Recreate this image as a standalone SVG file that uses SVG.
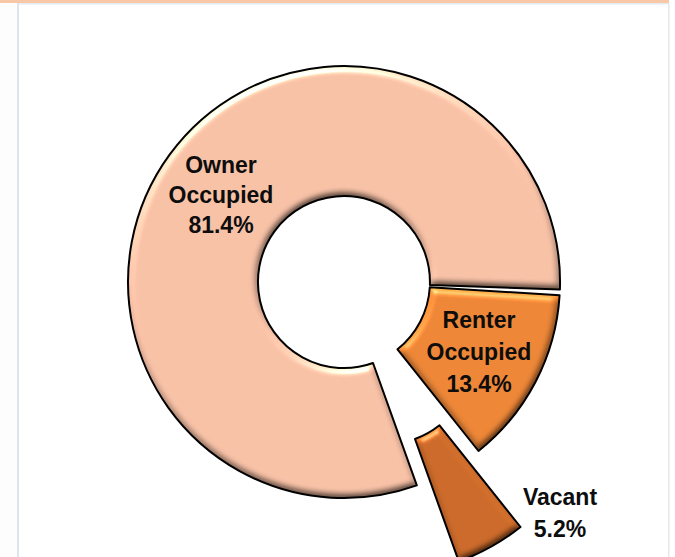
<svg xmlns="http://www.w3.org/2000/svg" xmlns:xlink="http://www.w3.org/1999/xlink" width="675" height="557" viewBox="0 0 675 557">
  <style>
    .lbl { font-family: "Liberation Sans", Arial, sans-serif; font-weight: bold; font-size: 23px; fill: #0d0d0d; text-anchor: middle; }
    .outline { fill: none; stroke: #000; stroke-width: 2; stroke-linejoin: round; }
  </style>
  <defs>
    <filter id="bevel" x="-10%" y="-10%" width="120%" height="120%" color-interpolation-filters="sRGB">
      <feGaussianBlur in="SourceAlpha" stdDeviation="3.5" result="blur"/>
      <feDiffuseLighting in="blur" surfaceScale="3.5" diffuseConstant="1" lighting-color="#ffffff" result="diff">
        <feDistantLight azimuth="250" elevation="45"/>
      </feDiffuseLighting>
      <feComposite in="SourceGraphic" in2="diff" operator="arithmetic" k1="0.99" k2="0.3" k3="0" k4="0" result="lit"/>
      <feSpecularLighting in="blur" surfaceScale="3.5" specularConstant="0.5" specularExponent="45" lighting-color="#ffffff" result="spec">
        <feDistantLight azimuth="250" elevation="45"/>
      </feSpecularLighting>
      <feComposite in="spec" in2="SourceAlpha" operator="in" result="specIn"/>
      <feComposite in="lit" in2="specIn" operator="arithmetic" k1="0" k2="1" k3="0.6" k4="-0.01" result="all"/>
      <feComposite in="all" in2="SourceAlpha" operator="in"/>
    </filter>
    <path id="p-owner" d="M416.8,485.4 A216,216 0 1 1 559.9,289.5 L429.9,285.0 A86,86 0 1 0 373.0,363.0 Z"/>
    <path id="p-renter" d="M429.8,287.3 L559.6,295.2 A216,216 0 0 1 478.5,451.0 L397.5,349.3 A86,86 0 0 0 429.8,287.3 Z"/>
    <path id="p-vacant" d="M397.5,349.3 L478.5,451.0 A216,216 0 0 1 416.8,485.4 L373.0,363.0 A86,86 0 0 0 397.5,349.3 Z"/>
  </defs>

  <!-- background / frame -->
  <rect x="0" y="0" width="675" height="557" fill="#ffffff"/>
  <rect x="0" y="0" width="17" height="557" fill="#fdfdfd"/>
  <rect x="0" y="0" width="669" height="3" fill="#f8c7a6"/>
  <rect x="17" y="3" width="2" height="554" fill="#dfe5ec"/>
  <rect x="19" y="3" width="650" height="1.5" fill="#e4ecf3"/>
  <rect x="668" y="3" width="1.5" height="554" fill="#e8e8e8"/>

  <g id="owner">
    <use xlink:href="#p-owner" fill="#f8c2a7" filter="url(#bevel)"/>
    <use xlink:href="#p-owner" class="outline"/>
  </g>
  <g id="renter">
    <use xlink:href="#p-renter" fill="#ee8738" filter="url(#bevel)"/>
    <use xlink:href="#p-renter" class="outline"/>
  </g>
  <g id="vacant" transform="translate(42,76)">
    <use xlink:href="#p-vacant" fill="#cc6b2b" filter="url(#bevel)"/>
    <use xlink:href="#p-vacant" class="outline"/>
  </g>

  <g id="connectors"></g>

  <g id="label-owner">
    <text class="lbl" x="221" y="173">Owner</text>
    <text class="lbl" x="221" y="203">Occupied</text>
    <text class="lbl" x="221" y="233">81.4%</text>
  </g>
  <g id="label-renter">
    <text class="lbl" x="479" y="328">Renter</text>
    <text class="lbl" x="479" y="360">Occupied</text>
    <text class="lbl" x="479" y="392">13.4%</text>
  </g>
  <g id="label-vacant">
    <text class="lbl" x="560" y="505">Vacant</text>
    <text class="lbl" x="560" y="537">5.2%</text>
  </g>
</svg>
